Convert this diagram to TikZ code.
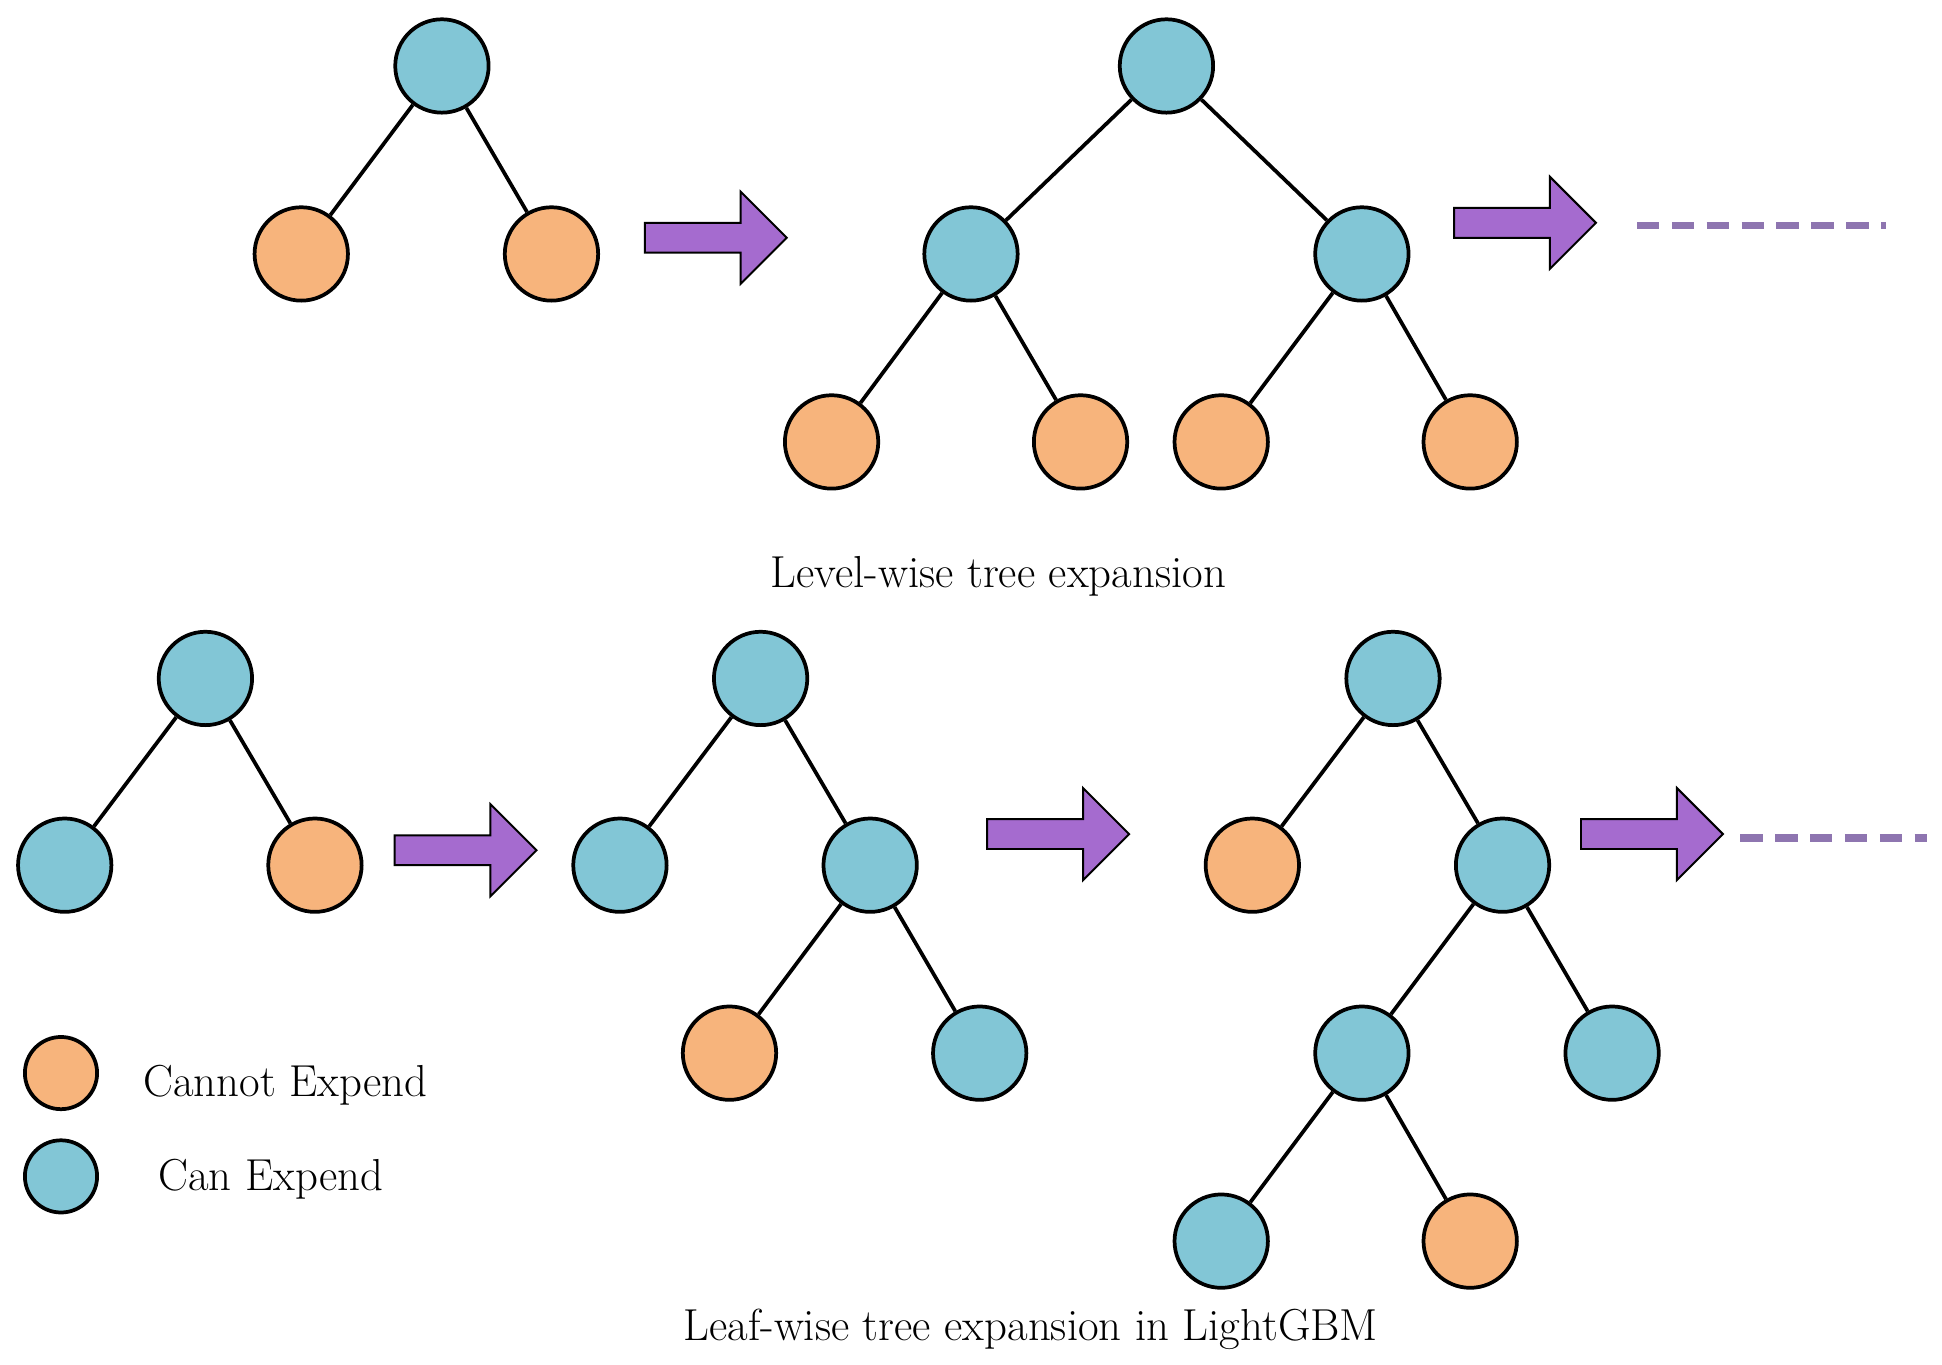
\documentclass[tikz,border=0pt]{standalone}
\begin{document}
\begin{tikzpicture}[x=0.5pt,y=-0.5pt,
  nd/.style={circle,draw=black,line width=1.5pt,minimum size=37.5pt,inner sep=0pt},
  cy/.style={nd,fill=cyanN}, og/.style={nd,fill=orangeN},
  lg/.style={circle,draw=black,line width=1.5pt,minimum size=29pt,inner sep=0pt},
  ed/.style={line width=1.5pt},
  lab/.style={font=\fontsize{18}{22}\selectfont},
  dl/.style={line width=3pt,draw=dashN,dash pattern=on 9pt off 5pt}]
\definecolor{cyanN}{HTML}{82C6D6}
\definecolor{orangeN}{HTML}{F7B47C}
\definecolor{arrN}{HTML}{A56BCF}
\definecolor{dashN}{HTML}{8E75B0}
\useasboundingbox (0,0) rectangle (1560,1096);
\newcommand{\bigarrow}[3]{% x0, y, name
  \fill[arrN,draw=black,line width=0.8pt] (#1,#2-12) -- (#1+77,#2-12) -- (#1+77,#2-37) -- (#1+114,#2) -- (#1+77,#2+37) -- (#1+77,#2+12) -- (#1,#2+12) -- cycle;}
% top tree 1
\node[cy] (a) at (355,53) {};
\node[og] (a1) at (242,204) {};
\node[og] (a2) at (443,204) {};
\draw[ed] (a)--(a1) (a)--(a2);
\bigarrow{518}{191}{r1}
% top tree 2
\node[cy] (b) at (937,53) {};
\node[cy] (b1) at (780,204) {};
\node[cy] (b2) at (1094,204) {};
\node[og] (b11) at (668,355) {};
\node[og] (b12) at (868,355) {};
\node[og] (b21) at (981,355) {};
\node[og] (b22) at (1181,355) {};
\draw[ed] (b)--(b1) (b)--(b2) (b1)--(b11) (b1)--(b12) (b2)--(b21) (b2)--(b22);
\bigarrow{1168}{179}{r2}
\coordinate (d1s) at (1315,181); \coordinate (d1e) at (1515,181);
\draw[dl] (d1s)--(d1e);
\node[lab] (t1) at (802,463) {Level-wise tree expansion};
% bottom tree 1
\node[cy] (c) at (165,545) {};
\node[cy] (c1) at (52,695) {};
\node[og] (c2) at (253,695) {};
\draw[ed] (c)--(c1) (c)--(c2);
\bigarrow{317}{683}{r3}
% bottom tree 2
\node[cy] (e) at (611,545) {};
\node[cy] (e1) at (498,695) {};
\node[cy] (e2) at (699,695) {};
\node[og] (e21) at (586,846) {};
\node[cy] (e22) at (787,846) {};
\draw[ed] (e)--(e1) (e)--(e2) (e2)--(e21) (e2)--(e22);
\bigarrow{793}{670}{r4}
% bottom tree 3
\node[cy] (f) at (1119,545) {};
\node[og] (f1) at (1006,695) {};
\node[cy] (f2) at (1207,695) {};
\node[cy] (f21) at (1094,846) {};
\node[cy] (f22) at (1295,846) {};
\node[cy] (f211) at (981,997) {};
\node[og] (f212) at (1181,997) {};
\draw[ed] (f)--(f1) (f)--(f2) (f2)--(f21) (f2)--(f22) (f21)--(f211) (f21)--(f212);
\bigarrow{1270}{670}{r5}
\coordinate (d2s) at (1398,673); \coordinate (d2e) at (1548,673);
\draw[dl] (d2s)--(d2e);
% legend
\node[lg,fill=orangeN] (l1) at (49,862) {};
\node[lab,anchor=west] (lt1) at (108,872) {Cannot Expend};
\node[lg,fill=cyanN] (l2) at (49,945) {};
\node[lab,anchor=west] (lt2) at (120,947) {Can Expend};
\node[lab] (t2) at (828,1068) {Leaf-wise tree expansion in LightGBM};
\end{tikzpicture}
\end{document}
